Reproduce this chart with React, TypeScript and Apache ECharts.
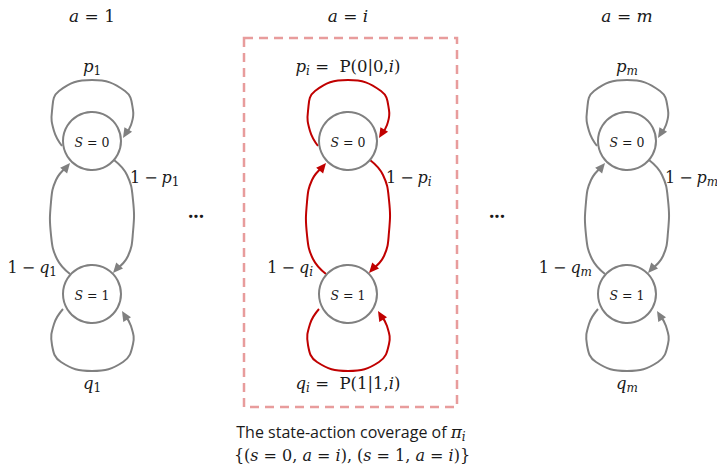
import React, { useEffect, useRef } from 'react';
import * as echarts from 'echarts';

// ---- diagram content ----
const ACTIONS = ['1', 'i', 'm'];
const STATES = ['0', '1'];
const HIGHLIGHT = [false, true, false];
const EXPLICIT_P = ['', 'P(0|0,', ''];
const EXPLICIT_Q = ['', 'P(1|1,', ''];
const CAPTION_TEXT = 'The state-action coverage of ';
const ELLIPSES = ['...', '...'];

// ---- layout ----
const W = 717;
const H = 467;
const COL_X = [92, 348, 627];
const DOTS_X = [196, 497];
const STATE_Y = [141, 294];
const R = 29;
const GRAY = '#808080';
const RED = '#c00000';
const INK = '#1a1a1a';
const DASH = '#e89c9c';
const MATH = "'DejaVu Serif', 'Liberation Serif', serif";
const SANS = "'Open Sans', Lato, sans-serif";
const MINUS = '1\u2005−\u2005';

// curve shapes relative to column x (dx, absolute y)
const TOP_LOOP = [[-30, 146], [-38, 131], [-40, 111], [-33, 91], [0, 80], [33, 91], [41, 110], [39, 125], [31, 138]];
const RIGHT_ARC = [[22, 160], [35, 175], [41, 200], [41, 232], [36, 256], [21, 273]];
const LEFT_ARC = [[-22, 274], [-35, 259], [-41, 235], [-41, 202], [-36, 180], [-22, 163]];
const BOTTOM_LOOP = [[-29, 309], [-38, 324], [-40, 345], [-31, 362], [0, 371], [31, 362], [41, 344], [39, 326], [30, 311]];

function sub(s: string) {
  return /^\d+$/.test(s) ? `{subn|${s}}` : `{subi|${s}}`;
}
function it(s: string) {
  return /^\d+$/.test(s) ? `{n|${s}}` : `{v|${s}}`;
}

function rich(fs: number) {
  return {
    v: { fontFamily: MATH, fontStyle: 'italic', fontSize: fs, lineHeight: 22, fill: INK },
    n: { fontFamily: MATH, fontSize: fs, lineHeight: 22, fill: INK },
    c: { fontFamily: SANS, fontSize: 16, lineHeight: 22, fill: INK },
    subi: { fontFamily: MATH, fontStyle: 'italic', fontSize: Math.round(fs * 0.72), lineHeight: 12, verticalAlign: 'bottom', fill: INK },
    subn: { fontFamily: MATH, fontSize: Math.round(fs * 0.72), lineHeight: 12, verticalAlign: 'bottom', fill: INK },
  };
}

function textEl(x: number, y: number, text: string, align: string, fs = 16, extra: any = {}) {
  return {
    type: 'text',
    x,
    y,
    silent: true,
    style: {
      text,
      rich: rich(fs),
      align,
      verticalAlign: 'middle',
      fill: INK,
      fontFamily: MATH,
      fontSize: fs,
      ...extra,
    },
  };
}

function curve(cx: number, pts: number[][], color: string): any[] {
  const abs = pts.map(([dx, y]) => [cx + dx, y]);
  const tip = abs[abs.length - 1];
  const prev = abs[abs.length - 2];
  const dx = tip[0] - prev[0];
  const dy = tip[1] - prev[1];
  const len = Math.hypot(dx, dy);
  const ux = dx / len;
  const uy = dy / len;
  const L = 10;
  const hw = 4.5;
  const bx = tip[0] - ux * L;
  const by = tip[1] - uy * L;
  return [
    {
      type: 'polyline',
      silent: true,
      shape: { points: abs.slice(0, -1).concat([[tip[0] - ux * 5, tip[1] - uy * 5]]), smooth: 0.45 },
      style: { stroke: color, lineWidth: 2, fill: null },
    },
    {
      type: 'polygon',
      silent: true,
      shape: { points: [tip, [bx - uy * hw, by + ux * hw], [bx + uy * hw, by - ux * hw]] },
      style: { fill: color, stroke: null },
    },
  ];
}

function buildGraphic() {
  const els: any[] = [];
  els.push({
    type: 'rect',
    silent: true,
    shape: { x: 244, y: 38, width: 213, height: 369 },
    style: { fill: null, stroke: DASH, lineWidth: 2.5, lineDash: [9, 6] },
  });
  ACTIONS.forEach((a, k) => {
    const cx = COL_X[k];
    const col = HIGHLIGHT[k] ? RED : GRAY;
    [TOP_LOOP, RIGHT_ARC, LEFT_ARC, BOTTOM_LOOP].forEach((p) => {
      curve(cx, p, col).forEach((e) => els.push(e));
    });
    STATES.forEach((s, j) => {
      els.push({
        type: 'circle',
        silent: true,
        shape: { cx, cy: STATE_Y[j], r: R },
        style: { fill: '#ffffff', stroke: GRAY, lineWidth: 2 },
      });
      els.push(textEl(cx, STATE_Y[j] + 1, `{v|S}{n| = ${s}}`, 'center', 12.5));
    });
    els.push(textEl(cx, 16, `{v|a}{n| = }${it(a)}`, 'center', 17));
    const pExtra = EXPLICIT_P[k] ? `{n| =  ${EXPLICIT_P[k]}}{v|${a}}{n|)}` : '';
    const qExtra = EXPLICIT_Q[k] ? `{n| =  ${EXPLICIT_Q[k]}}{v|${a}}{n|)}` : '';
    els.push(textEl(cx, 66, `{v|p}${sub(a)}${pExtra}`, 'center', 16.5));
    els.push(textEl(cx, 383, `{v|q}${sub(a)}${qExtra}`, 'center', 16.5));
    els.push(textEl(cx + 38, 177, `{n|${MINUS}}{v|p}${sub(a)}`, 'left', 16));
    els.push(textEl(cx - 35, 267, `{n|${MINUS}}{v|q}${sub(a)}`, 'right', 16));
  });
  ELLIPSES.forEach((d, k) => {
    els.push({
      type: 'text',
      x: DOTS_X[k],
      y: 211,
      silent: true,
      style: { text: d, align: 'center', verticalAlign: 'middle', fontFamily: SANS, fontWeight: 'bold', fontSize: 19, fill: INK },
    });
  });
  els.push(textEl(351, 432, `{c|${CAPTION_TEXT}}{v|π}{subi|i}`, 'center', 17));
  els.push(
    textEl(
      352,
      455,
      `{n|{(}{v|s}{n| = 0, }{v|a}{n| = }{v|i}{n|), (}{v|s}{n| = 1, }{v|a}{n| = }{v|i}{n|)}}`,
      'center',
      16
    )
  );
  return els;
}

export default function App() {
  const ref = useRef<HTMLDivElement>(null);
  useEffect(() => {
    if (!ref.current) return;
    const chart = echarts.init(ref.current, null, { renderer: 'svg' });
    chart.setOption({
      animation: false,
      backgroundColor: '#ffffff',
      graphic: { elements: buildGraphic() },
    });
    return () => chart.dispose();
  }, []);
  return <div ref={ref} style={{ position: 'fixed', left: 0, top: 0, width: W, height: H }} />;
}
